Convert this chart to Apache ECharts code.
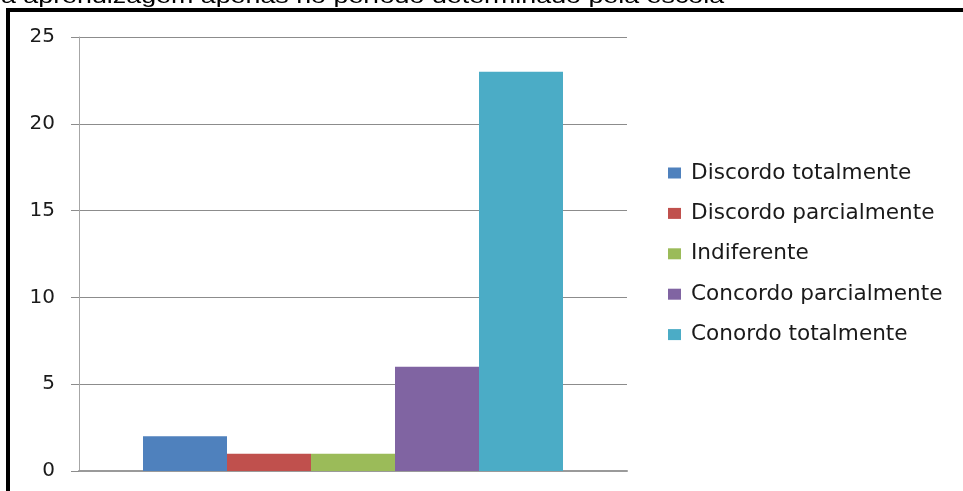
<!DOCTYPE html>
<html>
<head>
<meta charset="utf-8">
<script src="https://cdn.jsdelivr.net/npm/echarts@6/dist/echarts.min.js"></script>
<style>
  html, body { margin: 0; padding: 0; background: #fff; }
  #chart { width: 963px; height: 491px; }
</style>
</head>
<body>
<div id="chart"></div>
<script>
// Survey answers (number of respondents per option)
const categories = [''];
const seriesNames = [
  'Discordo totalmente',
  'Discordo parcialmente',
  'Indiferente',
  'Concordo parcialmente',
  'Conordo totalmente'
];
const seriesValues = [2, 1, 1, 6, 23];
const seriesColors = ['#4F81BD', '#C0504D', '#9BBB59', '#8064A2', '#4BACC6'];
const yTicks = [0, 5, 10, 15, 20, 25];
const captionText = 'a aprendizagem apenas no período determinado pela escola';

const chart = echarts.init(document.getElementById('chart'), null, { renderer: 'canvas' });

const series = seriesNames.map((name, i) => ({
  name: name,
  type: 'bar',
  data: [seriesValues[i]],
  barWidth: 84,
  barGap: '0%',
  itemStyle: { color: seriesColors[i] },
  animation: false
}));

chart.setOption({
  animation: false,
  backgroundColor: '#fff',
  grid: { left: 79, right: 336, top: 37, bottom: 20, containLabel: false },
  xAxis: {
    type: 'category',
    data: categories,
    axisLine: { show: true, lineStyle: { color: '#9a9a9a', width: 2 } },
    axisTick: { show: false },
    axisLabel: { show: false },
    splitLine: { show: false }
  },
  yAxis: {
    type: 'value',
    min: yTicks[0],
    max: yTicks[yTicks.length - 1],
    interval: 5,
    axisLine: { show: true, lineStyle: { color: '#a6a6a6', width: 1 } },
    axisTick: { show: true, length: 8, lineStyle: { color: '#8c8c8c' } },
    axisLabel: {
      margin: 24,
      color: '#1a1a1a',
      fontFamily: 'DejaVu Sans',
      fontSize: 20
    },
    splitLine: { show: true, lineStyle: { color: '#8c8c8c', width: 1 } }
  },
  legend: {
    orient: 'vertical',
    left: 668,
    top: 162,
    padding: 0,
    itemWidth: 13,
    itemHeight: 11,
    itemGap: 18.4,
    icon: 'rect',
    textStyle: {
      fontFamily: 'DejaVu Sans',
      fontSize: 21.6,
      color: '#1a1a1a',
      padding: [0, 0, 0, 5]
    },
    data: seriesNames
  },
  graphic: [
    {
      type: 'rect',
      silent: true,
      shape: { x: 8, y: 10, width: 1000, height: 600 },
      style: { fill: 'none', stroke: '#000', lineWidth: 4 }
    },
    {
      type: 'text',
      silent: true,
      x: 1,
      y: -13,
      scaleX: 1.277,
      style: {
        text: captionText,
        fontFamily: 'Liberation Sans',
        fontSize: 21,
        fill: '#000'
      }
    }
  ],
  series: series
});
</script>
</body>
</html>
